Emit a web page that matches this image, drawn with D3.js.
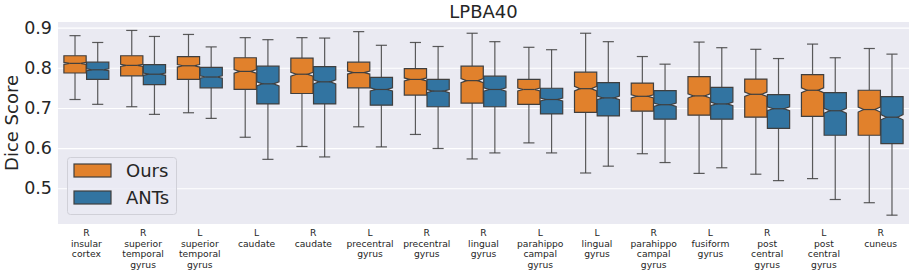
<!DOCTYPE html>
<html>
<head>
<meta charset="utf-8">
<script src="https://cdn.jsdelivr.net/npm/d3@7.9.0/dist/d3.min.js"></script>
<style>
  html, body { margin: 0; padding: 0; background: #fff; }
  svg { display: block; font-family: "DejaVu Sans", sans-serif; }
</style>
</head>
<body>
<div id="chart"></div>
<script>
// region labels (one entry per line of the tick label)
const regions = [
  ['R', 'insular', 'cortex'],
  ['R', 'superior', 'temporal', 'gyrus'],
  ['L', 'superior', 'temporal', 'gyrus'],
  ['L', 'caudate'],
  ['R', 'caudate'],
  ['L', 'precentral', 'gyrus'],
  ['R', 'precentral', 'gyrus'],
  ['R', 'lingual', 'gyrus'],
  ['L', 'parahippo', 'campal', 'gyrus'],
  ['L', 'lingual', 'gyrus'],
  ['R', 'parahippo', 'campal', 'gyrus'],
  ['L', 'fusiform', 'gyrus'],
  ['R', 'post', 'central', 'gyrus'],
  ['L', 'post', 'central', 'gyrus'],
  ['R', 'cuneus']
];

const methods = ['Ours', 'ANTs'];

// [whisker low, q1, median, q3, whisker high]
const ours = [
  [0.721, 0.787, 0.811, 0.830, 0.880],
  [0.703, 0.780, 0.806, 0.830, 0.893],
  [0.688, 0.771, 0.805, 0.828, 0.883],
  [0.627, 0.746, 0.791, 0.825, 0.875],
  [0.604, 0.736, 0.784, 0.824, 0.875],
  [0.653, 0.750, 0.788, 0.814, 0.890],
  [0.634, 0.732, 0.771, 0.798, 0.863],
  [0.573, 0.712, 0.768, 0.804, 0.886],
  [0.613, 0.709, 0.746, 0.771, 0.851],
  [0.538, 0.689, 0.748, 0.789, 0.886],
  [0.586, 0.692, 0.729, 0.762, 0.828],
  [0.537, 0.682, 0.730, 0.778, 0.864],
  [0.535, 0.677, 0.734, 0.772, 0.846],
  [0.524, 0.679, 0.744, 0.783, 0.859],
  [0.464, 0.632, 0.696, 0.744, 0.848]
];

const ants = [
  [0.709, 0.771, 0.795, 0.814, 0.863],
  [0.684, 0.758, 0.784, 0.808, 0.878],
  [0.674, 0.750, 0.777, 0.801, 0.852],
  [0.572, 0.710, 0.760, 0.804, 0.870],
  [0.578, 0.710, 0.765, 0.803, 0.874],
  [0.603, 0.707, 0.746, 0.776, 0.856],
  [0.599, 0.703, 0.742, 0.771, 0.853],
  [0.588, 0.703, 0.746, 0.779, 0.865],
  [0.588, 0.685, 0.721, 0.749, 0.845],
  [0.555, 0.680, 0.725, 0.763, 0.865],
  [0.564, 0.672, 0.708, 0.743, 0.809],
  [0.551, 0.672, 0.710, 0.751, 0.850],
  [0.519, 0.649, 0.698, 0.733, 0.823],
  [0.472, 0.632, 0.693, 0.738, 0.825],
  [0.433, 0.611, 0.677, 0.728, 0.834]
];

const yTicks = [0.5, 0.6, 0.7, 0.8, 0.9];
const nPairs = 780; // sample count used for notch size

const colors = { Ours: '#e1812c', ANTs: '#3274a1' };
const lineGray = '#3f3f3f';

const width = 914, height = 273;
const plot = { left: 58, right: 909, top: 22, bottom: 224 };

const svg = d3.select('#chart').append('svg')
  .attr('width', width)
  .attr('height', height);

const x = d3.scaleBand()
  .domain(d3.range(regions.length))
  .range([plot.left, plot.right]);

const hue = d3.scaleBand()
  .domain(methods)
  .range([x.bandwidth() * 0.1, x.bandwidth() * 0.9]);

const y = d3.scaleLinear()
  .domain([0.411, 0.914])
  .range([plot.bottom, plot.top]);

// background
svg.append('rect')
  .attr('x', plot.left).attr('y', plot.top)
  .attr('width', plot.right - plot.left)
  .attr('height', plot.bottom - plot.top)
  .attr('fill', '#eaeaf2');

// gridlines
svg.append('g')
  .attr('transform', `translate(${plot.left},0)`)
  .call(d3.axisLeft(y).tickValues(yTicks).tickFormat('').tickSize(-(plot.right - plot.left)))
  .call(g => g.select('.domain').remove())
  .call(g => g.selectAll('line').attr('stroke', '#fff').attr('stroke-width', 1.1));

// y tick labels
svg.append('g')
  .attr('transform', `translate(${plot.left - 6},0)`)
  .call(d3.axisLeft(y).tickValues(yTicks).tickSize(0).tickPadding(0).tickFormat(d3.format('.1f')))
  .call(g => g.select('.domain').remove())
  .call(g => g.selectAll('text')
    .attr('font-size', 17.5)
    .attr('fill', '#262626')
    .attr('font-family', '"DejaVu Sans", sans-serif'));

// y axis title
svg.append('text')
  .attr('transform', `translate(18,${(plot.top + plot.bottom) / 2}) rotate(-90)`)
  .attr('text-anchor', 'middle')
  .attr('font-size', 18)
  .attr('fill', '#262626')
  .text('Dice Score');

// title
svg.append('text')
  .attr('x', (plot.left + plot.right) / 2)
  .attr('y', 18)
  .attr('text-anchor', 'middle')
  .attr('font-size', 18)
  .attr('fill', '#262626')
  .text('LPBA40');

// x labels
const xl = svg.append('g');
regions.forEach((lines, i) => {
  const t = xl.append('text')
    .attr('x', x(i) + x.bandwidth() / 2)
    .attr('y', 236)
    .attr('text-anchor', 'middle')
    .attr('font-size', 9.2)
    .attr('fill', '#262626');
  lines.forEach((s, k) => {
    t.append('tspan')
      .attr('x', x(i) + x.bandwidth() / 2)
      .attr('dy', k === 0 ? 0 : 10.5)
      .text(s);
  });
});

function notchPath(cx, w, s) {
  const [lo, q1, med, q3, hi] = s;
  const n = 1.57 * (q3 - q1) / Math.sqrt(nPairs);
  const l = cx - w / 2, r = cx + w / 2;
  const cl = cx - w / 4, cr = cx + w / 4;
  const pts = [
    [l, y(q1)], [r, y(q1)], [r, y(med - n)], [cr, y(med)], [r, y(med + n)],
    [r, y(q3)], [l, y(q3)], [l, y(med + n)], [cl, y(med)], [l, y(med - n)]
  ];
  return d3.line()(pts) + 'Z';
}

const series = { Ours: ours, ANTs: ants };
const boxes = svg.append('g');
methods.forEach(m => {
  series[m].forEach((s, i) => {
    const cx = x(i) + hue(m) + hue.bandwidth() / 2;
    const w = hue.bandwidth() * 0.98;
    const g = boxes.append('g');
    // whiskers
    g.append('line')
      .attr('x1', cx).attr('x2', cx)
      .attr('y1', y(s[0])).attr('y2', y(s[1]))
      .attr('stroke', lineGray).attr('stroke-width', 1.2).attr('stroke-opacity', 0.85);
    g.append('line')
      .attr('x1', cx).attr('x2', cx)
      .attr('y1', y(s[3])).attr('y2', y(s[4]))
      .attr('stroke', lineGray).attr('stroke-width', 1.2).attr('stroke-opacity', 0.85);
    // caps
    [s[0], s[4]].forEach(v => {
      g.append('line')
        .attr('x1', cx - w / 4).attr('x2', cx + w / 4)
        .attr('y1', y(v)).attr('y2', y(v))
        .attr('stroke', lineGray).attr('stroke-width', 1.2).attr('stroke-opacity', 0.85);
    });
    // box
    g.append('path')
      .attr('d', notchPath(cx, w, s))
      .attr('fill', colors[m])
      .attr('stroke', lineGray)
      .attr('stroke-width', 1.2)
      .attr('stroke-linejoin', 'miter');
    // median
    g.append('line')
      .attr('x1', cx - w / 4).attr('x2', cx + w / 4)
      .attr('y1', y(s[2])).attr('y2', y(s[2]))
      .attr('stroke', lineGray).attr('stroke-width', 1.2);
  });
});

// legend
const leg = svg.append('g');
leg.append('rect')
  .attr('x', 67.5).attr('y', 157.5)
  .attr('width', 109).attr('height', 57)
  .attr('rx', 3)
  .attr('fill', '#eaeaf2').attr('fill-opacity', 0.8)
  .attr('stroke', '#d0d0d8');
methods.forEach((m, k) => {
  const yy = 164 + k * 27;
  leg.append('rect')
    .attr('x', 74).attr('y', yy)
    .attr('width', 37).attr('height', 13)
    .attr('fill', colors[m])
    .attr('stroke', lineGray).attr('stroke-width', 1.2);
  leg.append('text')
    .attr('x', 126).attr('y', yy + 6.5)
    .attr('dy', '0.35em')
    .attr('font-size', 18)
    .attr('fill', '#262626')
    .text(m);
});
</script>
</body>
</html>
